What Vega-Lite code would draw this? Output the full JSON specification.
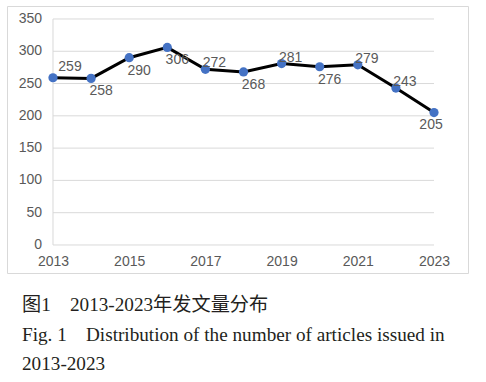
{
  "$schema": "https://vega.github.io/schema/vega-lite/v6.json",
  "width": 461,
  "height": 267,
  "autosize": {"type": "none"},
  "padding": {"left": 7, "top": 6, "right": 18, "bottom": 109},
  "background": "white",
  "config": {
    "view": {"stroke": "#d9d9d9", "strokeWidth": 1},
    "axis": {"labelFont": "Liberation Sans", "labelFontSize": 14, "labelColor": "#595959", "domain": false, "ticks": false, "grid": false, "title": null, "labelOverlap": false}
  },
  "title": {
    "text": ["图1　2013-2023年发文量分布", "Fig. 1　Distribution of the number of articles issued in", "2013-2023"],
    "orient": "bottom",
    "anchor": "start",
    "frame": "group",
    "font": "'Liberation Serif', 'Noto Sans CJK SC'",
    "fontSize": 19.2,
    "fontWeight": "normal",
    "color": "#231f20",
    "lineHeight": 29.5,
    "baseline": "top",
    "offset": 23,
    "dx": 15
  },
  "datasets": {
    "articles": [
      {"year": 2013, "count": 259},
      {"year": 2014, "count": 258},
      {"year": 2015, "count": 290},
      {"year": 2016, "count": 306},
      {"year": 2017, "count": 272},
      {"year": 2018, "count": 268},
      {"year": 2019, "count": 281},
      {"year": 2020, "count": 276},
      {"year": 2021, "count": 279},
      {"year": 2022, "count": 243},
      {"year": 2023, "count": 205}
    ],
    "grid": [
      {"g": 0}, {"g": 50}, {"g": 100}, {"g": 150}, {"g": 200}, {"g": 250}, {"g": 300}, {"g": 350}
    ]
  },
  "layer": [
    {
      "data": {"name": "grid"},
      "mark": {"type": "rule", "color": "#d9d9d9", "strokeWidth": 1},
      "encoding": {
        "y": {"field": "g", "type": "quantitative", "scale": {"domain": [-43.4, 370.1], "nice": false, "zero": false}, "axis": null},
        "x": {"datum": 2013, "type": "quantitative", "scale": {"domain": [2011.793, 2023.892], "nice": false, "zero": false},
              "axis": {"values": [2013, 2015, 2017, 2019, 2021, 2023], "format": "d", "offset": -28, "labelPadding": 9, "labelFlush": false, "labelOverlap": false}},
        "x2": {"datum": 2023}
      }
    },
    {
      "data": {"name": "grid"},
      "mark": {"type": "text", "font": "Liberation Sans", "fontSize": 14, "color": "#595959", "align": "right", "baseline": "middle", "dx": -11},
      "encoding": {
        "y": {"field": "g", "type": "quantitative"},
        "x": {"datum": 2013, "type": "quantitative"},
        "text": {"field": "g", "type": "quantitative"}
      }
    },
    {
      "data": {"values": [{}]},
      "mark": {"type": "rule", "color": "#d9d9d9", "strokeWidth": 1},
      "encoding": {
        "x": {"datum": 2013, "type": "quantitative"},
        "y": {"datum": 0, "type": "quantitative"},
        "y2": {"datum": 350}
      }
    },
    {
      "data": {"name": "articles"},
      "mark": {"type": "line", "color": "#000000", "strokeWidth": 3},
      "encoding": {
        "x": {"field": "year", "type": "quantitative"},
        "y": {"field": "count", "type": "quantitative"}
      }
    },
    {
      "data": {"name": "articles"},
      "mark": {"type": "point", "filled": true, "color": "#4472C4", "opacity": 1, "size": 85},
      "encoding": {
        "x": {"field": "year", "type": "quantitative"},
        "y": {"field": "count", "type": "quantitative"}
      }
    },
    {
      "data": {"name": "articles"},
      "transform": [{"filter": {"field": "year", "equal": 2013}}],
      "mark": {"type": "text", "font": "Liberation Sans", "fontSize": 14, "color": "#595959", "align": "center", "baseline": "middle", "dx": 17, "dy": -11},
      "encoding": {
        "x": {"field": "year", "type": "quantitative"},
        "y": {"field": "count", "type": "quantitative"},
        "text": {"field": "count", "type": "quantitative"}
      }
    },
    {
      "data": {"name": "articles"},
      "transform": [{"filter": {"field": "year", "oneOf": [2017, 2019, 2021, 2022]}}],
      "mark": {"type": "text", "font": "Liberation Sans", "fontSize": 14, "color": "#595959", "align": "center", "baseline": "middle", "dx": 9, "dy": -6},
      "encoding": {
        "x": {"field": "year", "type": "quantitative"},
        "y": {"field": "count", "type": "quantitative"},
        "text": {"field": "count", "type": "quantitative"}
      }
    },
    {
      "data": {"name": "articles"},
      "transform": [{"filter": {"field": "year", "oneOf": [2014, 2015, 2016, 2018, 2020]}}],
      "mark": {"type": "text", "font": "Liberation Sans", "fontSize": 14, "color": "#595959", "align": "center", "baseline": "middle", "dx": 10, "dy": 13},
      "encoding": {
        "x": {"field": "year", "type": "quantitative"},
        "y": {"field": "count", "type": "quantitative"},
        "text": {"field": "count", "type": "quantitative"}
      }
    },
    {
      "data": {"name": "articles"},
      "transform": [{"filter": {"field": "year", "equal": 2023}}],
      "mark": {"type": "text", "font": "Liberation Sans", "fontSize": 14, "color": "#595959", "align": "center", "baseline": "middle", "dx": -3, "dy": 12},
      "encoding": {
        "x": {"field": "year", "type": "quantitative"},
        "y": {"field": "count", "type": "quantitative"},
        "text": {"field": "count", "type": "quantitative"}
      }
    }
  ]
}
